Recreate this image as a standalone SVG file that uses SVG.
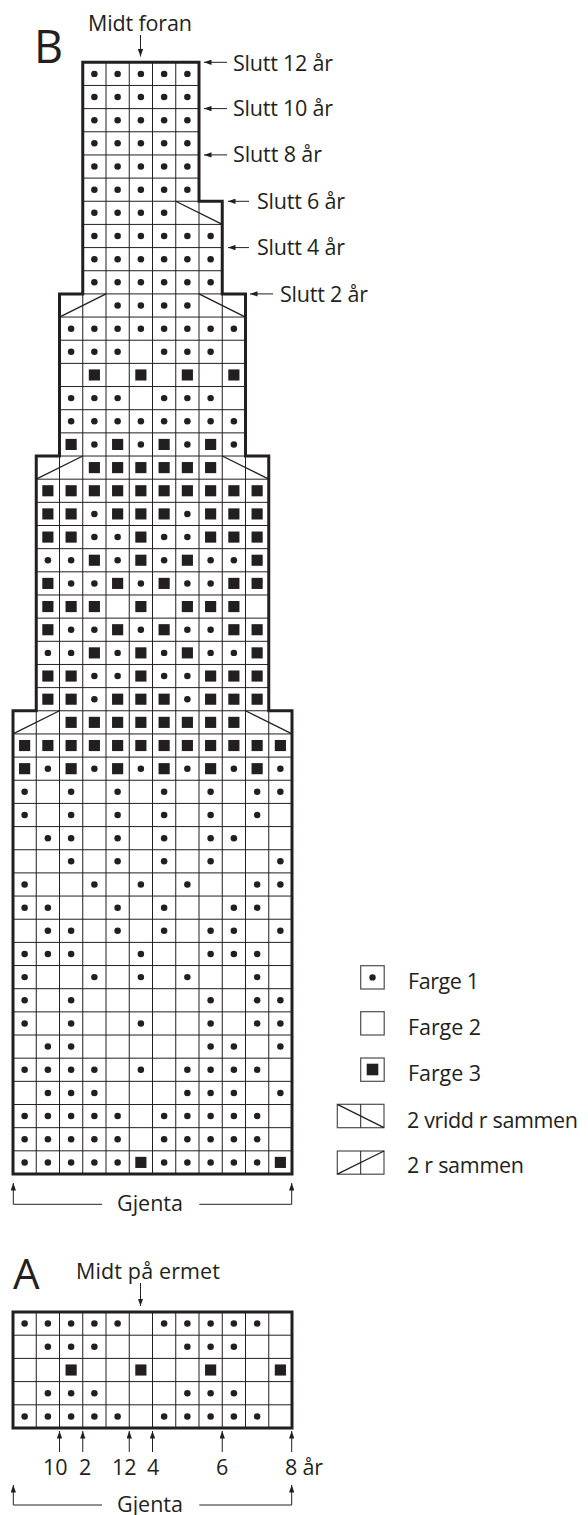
<svg xmlns="http://www.w3.org/2000/svg" xmlns:xlink="http://www.w3.org/1999/xlink" width="588" height="1515" viewBox="0 0 588 1515">
<style>
.g{fill:none;stroke:#231f20;stroke-width:1}
.ol{fill:none;stroke:#231f20;stroke-width:3;stroke-linejoin:miter}
.dg{fill:none;stroke:#231f20;stroke-width:1.3}
.lb{fill:#fff;stroke:#4d4d4d;stroke-width:1.2}
.ar{fill:none;stroke:#231f20;stroke-width:1;marker-end:url(#ah)}
text{font-family:"Open Sans","Liberation Sans",sans-serif;font-size:21.5px;fill:#231f20}
.k{fill:#231f20}
</style>
<defs>
<marker id="ah" viewBox="0 0 7 5" refX="7" refY="2.5" markerWidth="7.5" markerHeight="5.5" markerUnits="userSpaceOnUse" orient="auto"><path d="M0 0L7 2.5L0 5Z" fill="#231f20"/></marker>
<circle id="d" r="0.14" class="k"/>
<rect id="q" x="-0.24" y="-0.24" width="0.48" height="0.48" class="k"/>
</defs>
<rect x="0" y="0" width="588" height="1515" fill="#fff"/>

<g id="chartB" transform="translate(13 62.3) scale(23.25 23.16)">
<path class="g" vector-effect="non-scaling-stroke" d="M3 0H8M3 1H8M3 2H8M3 3H8M3 4H8M3 5H8M3 0V6M4 0V6M5 0V6M6 0V6M7 0V6M8 0V6
M3 6H9M3 7H9M3 8H9M3 9H9M3 6V10M4 6V10M5 6V10M6 6V10M7 6V10M8 6V10M9 6V10
M2 10H10M2 11H10M2 12H10M2 13H10M2 14H10M2 15H10M2 16H10M2 10V17M3 10V17M4 10V17M5 10V17M6 10V17M7 10V17M8 10V17M9 10V17M10 10V17
M1 17H11M1 18H11M1 19H11M1 20H11M1 21H11M1 22H11M1 23H11M1 24H11M1 25H11M1 26H11M1 27H11M1 17V28M2 17V28M3 17V28M4 17V28M5 17V28M6 17V28M7 17V28M8 17V28M9 17V28M10 17V28M11 17V28
M0 28H12M0 29H12M0 30H12M0 31H12M0 32H12M0 33H12M0 34H12M0 35H12M0 36H12M0 37H12M0 38H12M0 39H12M0 40H12M0 41H12M0 42H12M0 43H12M0 44H12M0 45H12M0 46H12M0 47H12M0 48H12
M0 28V48M1 28V48M2 28V48M3 28V48M4 28V48M5 28V48M6 28V48M7 28V48M8 28V48M9 28V48M10 28V48M11 28V48M12 28V48"/>
<path class="dg" vector-effect="non-scaling-stroke" d="M7 6L9 7M2 11L4 10M8 10L10 11M1 18L3 17M9 17L11 18M0 29L2 28M10 28L12 29"/>
<g id="symbolsB">
<use href="#d" x="3.5" y="0.5"/><use href="#d" x="4.5" y="0.5"/><use href="#d" x="5.5" y="0.5"/><use href="#d" x="6.5" y="0.5"/><use href="#d" x="7.5" y="0.5"/>
<use href="#d" x="3.5" y="1.5"/><use href="#d" x="4.5" y="1.5"/><use href="#d" x="5.5" y="1.5"/><use href="#d" x="6.5" y="1.5"/><use href="#d" x="7.5" y="1.5"/>
<use href="#d" x="3.5" y="2.5"/><use href="#d" x="4.5" y="2.5"/><use href="#d" x="5.5" y="2.5"/><use href="#d" x="6.5" y="2.5"/><use href="#d" x="7.5" y="2.5"/>
<use href="#d" x="3.5" y="3.5"/><use href="#d" x="4.5" y="3.5"/><use href="#d" x="5.5" y="3.5"/><use href="#d" x="6.5" y="3.5"/><use href="#d" x="7.5" y="3.5"/>
<use href="#d" x="3.5" y="4.5"/><use href="#d" x="4.5" y="4.5"/><use href="#d" x="5.5" y="4.5"/><use href="#d" x="6.5" y="4.5"/><use href="#d" x="7.5" y="4.5"/>
<use href="#d" x="3.5" y="5.5"/><use href="#d" x="4.5" y="5.5"/><use href="#d" x="5.5" y="5.5"/><use href="#d" x="6.5" y="5.5"/><use href="#d" x="7.5" y="5.5"/>
<use href="#d" x="3.5" y="6.5"/><use href="#d" x="4.5" y="6.5"/><use href="#d" x="5.5" y="6.5"/><use href="#d" x="6.5" y="6.5"/>
<use href="#d" x="3.5" y="7.5"/><use href="#d" x="4.5" y="7.5"/><use href="#d" x="5.5" y="7.5"/><use href="#d" x="6.5" y="7.5"/><use href="#d" x="7.5" y="7.5"/><use href="#d" x="8.5" y="7.5"/>
<use href="#d" x="3.5" y="8.5"/><use href="#d" x="4.5" y="8.5"/><use href="#d" x="5.5" y="8.5"/><use href="#d" x="6.5" y="8.5"/><use href="#d" x="7.5" y="8.5"/><use href="#d" x="8.5" y="8.5"/>
<use href="#d" x="3.5" y="9.5"/><use href="#d" x="4.5" y="9.5"/><use href="#d" x="5.5" y="9.5"/><use href="#d" x="6.5" y="9.5"/><use href="#d" x="7.5" y="9.5"/><use href="#d" x="8.5" y="9.5"/>
<use href="#d" x="4.5" y="10.5"/><use href="#d" x="5.5" y="10.5"/><use href="#d" x="6.5" y="10.5"/><use href="#d" x="7.5" y="10.5"/>
<use href="#d" x="2.5" y="11.5"/><use href="#d" x="3.5" y="11.5"/><use href="#d" x="4.5" y="11.5"/><use href="#d" x="5.5" y="11.5"/><use href="#d" x="6.5" y="11.5"/><use href="#d" x="7.5" y="11.5"/><use href="#d" x="8.5" y="11.5"/><use href="#d" x="9.5" y="11.5"/>
<use href="#d" x="2.5" y="12.5"/><use href="#d" x="3.5" y="12.5"/><use href="#d" x="4.5" y="12.5"/><use href="#d" x="6.5" y="12.5"/><use href="#d" x="7.5" y="12.5"/><use href="#d" x="8.5" y="12.5"/>
<use href="#q" x="3.5" y="13.5"/><use href="#q" x="5.5" y="13.5"/><use href="#q" x="7.5" y="13.5"/><use href="#q" x="9.5" y="13.5"/>
<use href="#d" x="2.5" y="14.5"/><use href="#d" x="3.5" y="14.5"/><use href="#d" x="4.5" y="14.5"/><use href="#d" x="6.5" y="14.5"/><use href="#d" x="7.5" y="14.5"/><use href="#d" x="8.5" y="14.5"/>
<use href="#d" x="2.5" y="15.5"/><use href="#d" x="3.5" y="15.5"/><use href="#d" x="4.5" y="15.5"/><use href="#d" x="5.5" y="15.5"/><use href="#d" x="6.5" y="15.5"/><use href="#d" x="7.5" y="15.5"/><use href="#d" x="8.5" y="15.5"/><use href="#d" x="9.5" y="15.5"/>
<use href="#q" x="2.5" y="16.5"/><use href="#d" x="3.5" y="16.5"/><use href="#q" x="4.5" y="16.5"/><use href="#d" x="5.5" y="16.5"/><use href="#q" x="6.5" y="16.5"/><use href="#d" x="7.5" y="16.5"/><use href="#q" x="8.5" y="16.5"/><use href="#d" x="9.5" y="16.5"/>
<use href="#q" x="3.5" y="17.5"/><use href="#q" x="4.5" y="17.5"/><use href="#q" x="5.5" y="17.5"/><use href="#q" x="6.5" y="17.5"/><use href="#q" x="7.5" y="17.5"/><use href="#q" x="8.5" y="17.5"/>
<use href="#q" x="1.5" y="18.5"/><use href="#q" x="2.5" y="18.5"/><use href="#q" x="3.5" y="18.5"/><use href="#q" x="4.5" y="18.5"/><use href="#q" x="5.5" y="18.5"/><use href="#q" x="6.5" y="18.5"/><use href="#q" x="7.5" y="18.5"/><use href="#q" x="8.5" y="18.5"/><use href="#q" x="9.5" y="18.5"/><use href="#q" x="10.5" y="18.5"/>
<use href="#q" x="1.5" y="19.5"/><use href="#q" x="2.5" y="19.5"/><use href="#d" x="3.5" y="19.5"/><use href="#q" x="4.5" y="19.5"/><use href="#q" x="5.5" y="19.5"/><use href="#q" x="6.5" y="19.5"/><use href="#d" x="7.5" y="19.5"/><use href="#q" x="8.5" y="19.5"/><use href="#q" x="9.5" y="19.5"/><use href="#q" x="10.5" y="19.5"/>
<use href="#q" x="1.5" y="20.5"/><use href="#q" x="2.5" y="20.5"/><use href="#d" x="3.5" y="20.5"/><use href="#d" x="4.5" y="20.5"/><use href="#q" x="5.5" y="20.5"/><use href="#d" x="6.5" y="20.5"/><use href="#d" x="7.5" y="20.5"/><use href="#q" x="8.5" y="20.5"/><use href="#q" x="9.5" y="20.5"/><use href="#q" x="10.5" y="20.5"/>
<use href="#d" x="1.5" y="21.5"/><use href="#d" x="2.5" y="21.5"/><use href="#q" x="3.5" y="21.5"/><use href="#d" x="4.5" y="21.5"/><use href="#q" x="5.5" y="21.5"/><use href="#d" x="6.5" y="21.5"/><use href="#q" x="7.5" y="21.5"/><use href="#d" x="8.5" y="21.5"/><use href="#d" x="9.5" y="21.5"/><use href="#q" x="10.5" y="21.5"/>
<use href="#q" x="1.5" y="22.5"/><use href="#d" x="2.5" y="22.5"/><use href="#d" x="3.5" y="22.5"/><use href="#q" x="4.5" y="22.5"/><use href="#d" x="5.5" y="22.5"/><use href="#q" x="6.5" y="22.5"/><use href="#d" x="7.5" y="22.5"/><use href="#d" x="8.5" y="22.5"/><use href="#q" x="9.5" y="22.5"/><use href="#q" x="10.5" y="22.5"/>
<use href="#q" x="1.5" y="23.5"/><use href="#q" x="2.5" y="23.5"/><use href="#q" x="3.5" y="23.5"/><use href="#q" x="5.5" y="23.5"/><use href="#q" x="7.5" y="23.5"/><use href="#q" x="8.5" y="23.5"/><use href="#q" x="9.5" y="23.5"/>
<use href="#q" x="1.5" y="24.5"/><use href="#d" x="2.5" y="24.5"/><use href="#d" x="3.5" y="24.5"/><use href="#q" x="4.5" y="24.5"/><use href="#d" x="5.5" y="24.5"/><use href="#q" x="6.5" y="24.5"/><use href="#d" x="7.5" y="24.5"/><use href="#d" x="8.5" y="24.5"/><use href="#q" x="9.5" y="24.5"/><use href="#q" x="10.5" y="24.5"/>
<use href="#d" x="1.5" y="25.5"/><use href="#d" x="2.5" y="25.5"/><use href="#q" x="3.5" y="25.5"/><use href="#d" x="4.5" y="25.5"/><use href="#q" x="5.5" y="25.5"/><use href="#d" x="6.5" y="25.5"/><use href="#q" x="7.5" y="25.5"/><use href="#d" x="8.5" y="25.5"/><use href="#d" x="9.5" y="25.5"/><use href="#q" x="10.5" y="25.5"/>
<use href="#q" x="1.5" y="26.5"/><use href="#q" x="2.5" y="26.5"/><use href="#d" x="3.5" y="26.5"/><use href="#d" x="4.5" y="26.5"/><use href="#q" x="5.5" y="26.5"/><use href="#d" x="6.5" y="26.5"/><use href="#d" x="7.5" y="26.5"/><use href="#q" x="8.5" y="26.5"/><use href="#q" x="9.5" y="26.5"/><use href="#q" x="10.5" y="26.5"/>
<use href="#q" x="1.5" y="27.5"/><use href="#q" x="2.5" y="27.5"/><use href="#d" x="3.5" y="27.5"/><use href="#q" x="4.5" y="27.5"/><use href="#q" x="5.5" y="27.5"/><use href="#q" x="6.5" y="27.5"/><use href="#d" x="7.5" y="27.5"/><use href="#q" x="8.5" y="27.5"/><use href="#q" x="9.5" y="27.5"/><use href="#q" x="10.5" y="27.5"/>
<use href="#q" x="2.5" y="28.5"/><use href="#q" x="3.5" y="28.5"/><use href="#q" x="4.5" y="28.5"/><use href="#q" x="5.5" y="28.5"/><use href="#q" x="6.5" y="28.5"/><use href="#q" x="7.5" y="28.5"/><use href="#q" x="8.5" y="28.5"/><use href="#q" x="9.5" y="28.5"/>
<use href="#q" x="0.5" y="29.5"/><use href="#q" x="1.5" y="29.5"/><use href="#q" x="2.5" y="29.5"/><use href="#q" x="3.5" y="29.5"/><use href="#q" x="4.5" y="29.5"/><use href="#q" x="5.5" y="29.5"/><use href="#q" x="6.5" y="29.5"/><use href="#q" x="7.5" y="29.5"/><use href="#q" x="8.5" y="29.5"/><use href="#q" x="9.5" y="29.5"/><use href="#q" x="10.5" y="29.5"/><use href="#q" x="11.5" y="29.5"/>
<use href="#q" x="0.5" y="30.5"/><use href="#d" x="1.5" y="30.5"/><use href="#q" x="2.5" y="30.5"/><use href="#d" x="3.5" y="30.5"/><use href="#q" x="4.5" y="30.5"/><use href="#d" x="5.5" y="30.5"/><use href="#q" x="6.5" y="30.5"/><use href="#d" x="7.5" y="30.5"/><use href="#q" x="8.5" y="30.5"/><use href="#d" x="9.5" y="30.5"/><use href="#q" x="10.5" y="30.5"/><use href="#d" x="11.5" y="30.5"/>
<use href="#d" x="0.5" y="31.5"/><use href="#d" x="2.5" y="31.5"/><use href="#d" x="4.5" y="31.5"/><use href="#d" x="6.5" y="31.5"/><use href="#d" x="8.5" y="31.5"/><use href="#d" x="10.5" y="31.5"/><use href="#d" x="11.5" y="31.5"/>
<use href="#d" x="0.5" y="32.5"/><use href="#d" x="2.5" y="32.5"/><use href="#d" x="4.5" y="32.5"/><use href="#d" x="6.5" y="32.5"/><use href="#d" x="8.5" y="32.5"/><use href="#d" x="10.5" y="32.5"/>
<use href="#d" x="1.5" y="33.5"/><use href="#d" x="2.5" y="33.5"/><use href="#d" x="4.5" y="33.5"/><use href="#d" x="6.5" y="33.5"/><use href="#d" x="8.5" y="33.5"/><use href="#d" x="9.5" y="33.5"/>
<use href="#d" x="2.5" y="34.5"/><use href="#d" x="4.5" y="34.5"/><use href="#d" x="6.5" y="34.5"/><use href="#d" x="8.5" y="34.5"/><use href="#d" x="11.5" y="34.5"/>
<use href="#d" x="0.5" y="35.5"/><use href="#d" x="3.5" y="35.5"/><use href="#d" x="5.5" y="35.5"/><use href="#d" x="7.5" y="35.5"/><use href="#d" x="10.5" y="35.5"/><use href="#d" x="11.5" y="35.5"/>
<use href="#d" x="0.5" y="36.5"/><use href="#d" x="1.5" y="36.5"/><use href="#d" x="4.5" y="36.5"/><use href="#d" x="6.5" y="36.5"/><use href="#d" x="9.5" y="36.5"/><use href="#d" x="10.5" y="36.5"/>
<use href="#d" x="1.5" y="37.5"/><use href="#d" x="2.5" y="37.5"/><use href="#d" x="4.5" y="37.5"/><use href="#d" x="6.5" y="37.5"/><use href="#d" x="8.5" y="37.5"/><use href="#d" x="9.5" y="37.5"/><use href="#d" x="11.5" y="37.5"/>
<use href="#d" x="0.5" y="38.5"/><use href="#d" x="1.5" y="38.5"/><use href="#d" x="2.5" y="38.5"/><use href="#d" x="5.5" y="38.5"/><use href="#d" x="8.5" y="38.5"/><use href="#d" x="9.5" y="38.5"/><use href="#d" x="10.5" y="38.5"/>
<use href="#d" x="0.5" y="39.5"/><use href="#d" x="3.5" y="39.5"/><use href="#d" x="5.5" y="39.5"/><use href="#d" x="7.5" y="39.5"/><use href="#d" x="10.5" y="39.5"/>
<use href="#d" x="0.5" y="40.5"/><use href="#d" x="2.5" y="40.5"/><use href="#d" x="8.5" y="40.5"/><use href="#d" x="10.5" y="40.5"/><use href="#d" x="11.5" y="40.5"/>
<use href="#d" x="0.5" y="41.5"/><use href="#d" x="2.5" y="41.5"/><use href="#d" x="5.5" y="41.5"/><use href="#d" x="8.5" y="41.5"/><use href="#d" x="10.5" y="41.5"/><use href="#d" x="11.5" y="41.5"/>
<use href="#d" x="1.5" y="42.5"/><use href="#d" x="2.5" y="42.5"/><use href="#d" x="8.5" y="42.5"/><use href="#d" x="9.5" y="42.5"/><use href="#d" x="11.5" y="42.5"/>
<use href="#d" x="0.5" y="43.5"/><use href="#d" x="1.5" y="43.5"/><use href="#d" x="2.5" y="43.5"/><use href="#d" x="3.5" y="43.5"/><use href="#d" x="5.5" y="43.5"/><use href="#d" x="7.5" y="43.5"/><use href="#d" x="8.5" y="43.5"/><use href="#d" x="9.5" y="43.5"/><use href="#d" x="10.5" y="43.5"/>
<use href="#d" x="1.5" y="44.5"/><use href="#d" x="2.5" y="44.5"/><use href="#d" x="3.5" y="44.5"/><use href="#d" x="7.5" y="44.5"/><use href="#d" x="8.5" y="44.5"/><use href="#d" x="9.5" y="44.5"/><use href="#d" x="11.5" y="44.5"/>
<use href="#d" x="0.5" y="45.5"/><use href="#d" x="1.5" y="45.5"/><use href="#d" x="2.5" y="45.5"/><use href="#d" x="3.5" y="45.5"/><use href="#d" x="4.5" y="45.5"/><use href="#d" x="6.5" y="45.5"/><use href="#d" x="7.5" y="45.5"/><use href="#d" x="8.5" y="45.5"/><use href="#d" x="9.5" y="45.5"/><use href="#d" x="10.5" y="45.5"/>
<use href="#d" x="0.5" y="46.5"/><use href="#d" x="1.5" y="46.5"/><use href="#d" x="2.5" y="46.5"/><use href="#d" x="3.5" y="46.5"/><use href="#d" x="4.5" y="46.5"/><use href="#d" x="6.5" y="46.5"/><use href="#d" x="7.5" y="46.5"/><use href="#d" x="8.5" y="46.5"/><use href="#d" x="9.5" y="46.5"/><use href="#d" x="10.5" y="46.5"/>
<use href="#d" x="0.5" y="47.5"/><use href="#d" x="1.5" y="47.5"/><use href="#d" x="2.5" y="47.5"/><use href="#d" x="3.5" y="47.5"/><use href="#d" x="4.5" y="47.5"/><use href="#q" x="5.5" y="47.5"/><use href="#d" x="6.5" y="47.5"/><use href="#d" x="7.5" y="47.5"/><use href="#d" x="8.5" y="47.5"/><use href="#d" x="9.5" y="47.5"/><use href="#d" x="10.5" y="47.5"/><use href="#q" x="11.5" y="47.5"/>
</g>
<path class="ol" vector-effect="non-scaling-stroke" d="M3 0H8V6H9V10H10V17H11V28H12V48H0V28H1V17H2V10H3Z"/>
</g>

<g id="chartA" transform="translate(13 1312) scale(23.25 23.2)">
<path class="g" vector-effect="non-scaling-stroke" d="M0 1H12M0 2H12M0 3H12M0 4H12M1 0V5M2 0V5M3 0V5M4 0V5M5 0V5M6 0V5M7 0V5M8 0V5M9 0V5M10 0V5M11 0V5"/>
<use href="#d" x="0.5" y="0.5"/><use href="#d" x="1.5" y="0.5"/><use href="#d" x="2.5" y="0.5"/><use href="#d" x="3.5" y="0.5"/><use href="#d" x="4.5" y="0.5"/><use href="#d" x="6.5" y="0.5"/><use href="#d" x="7.5" y="0.5"/><use href="#d" x="8.5" y="0.5"/><use href="#d" x="9.5" y="0.5"/><use href="#d" x="10.5" y="0.5"/>
<use href="#d" x="1.5" y="1.5"/><use href="#d" x="2.5" y="1.5"/><use href="#d" x="3.5" y="1.5"/><use href="#d" x="7.5" y="1.5"/><use href="#d" x="8.5" y="1.5"/><use href="#d" x="9.5" y="1.5"/>
<use href="#q" x="2.5" y="2.5"/><use href="#q" x="5.5" y="2.5"/><use href="#q" x="8.5" y="2.5"/><use href="#q" x="11.5" y="2.5"/>
<use href="#d" x="1.5" y="3.5"/><use href="#d" x="2.5" y="3.5"/><use href="#d" x="3.5" y="3.5"/><use href="#d" x="7.5" y="3.5"/><use href="#d" x="8.5" y="3.5"/><use href="#d" x="9.5" y="3.5"/>
<use href="#d" x="0.5" y="4.5"/><use href="#d" x="1.5" y="4.5"/><use href="#d" x="2.5" y="4.5"/><use href="#d" x="3.5" y="4.5"/><use href="#d" x="4.5" y="4.5"/><use href="#d" x="6.5" y="4.5"/><use href="#d" x="7.5" y="4.5"/><use href="#d" x="8.5" y="4.5"/><use href="#d" x="9.5" y="4.5"/><use href="#d" x="10.5" y="4.5"/>
<rect class="ol" vector-effect="non-scaling-stroke" x="0" y="0" width="12" height="5"/>
</g>

<g id="legend">
<g id="leg1"><rect class="lb" x="360.7" y="965.7" width="23.5" height="23.3"/><circle class="k" cx="372.5" cy="977.4" r="3.2"/><text x="408" y="989" textLength="71">Farge 1</text></g>
<g id="leg2"><rect class="lb" x="360.7" y="1011.7" width="23.5" height="23.3"/><text x="408" y="1035" textLength="73">Farge 2</text></g>
<g id="leg3"><rect class="lb" x="360.7" y="1058" width="23.5" height="23.3"/><rect class="k" x="366.7" y="1063.7" width="11.6" height="11.6"/><text x="408" y="1081" textLength="73">Farge 3</text></g>
<g id="leg4"><rect class="lb" x="337.3" y="1104.3" width="46.7" height="23.4"/><path class="g" d="M360.7 1104.3V1127.7"/><path class="dg" d="M337.3 1104.3L384 1127.7"/><text x="407" y="1127.7" textLength="171">2 vridd r sammen</text></g>
<g id="leg5"><rect class="lb" x="337.3" y="1151" width="46.7" height="23.2"/><path class="g" d="M360.7 1151V1174.2"/><path class="dg" d="M337.3 1174.2L384 1151"/><text x="407" y="1173.3" textLength="117">2 r sammen</text></g>
</g>

<g id="labels">
<text x="34" y="63" style="font-size:45px">B</text>
<text x="88" y="30.5" textLength="104">Midt foran</text>
<text x="233" y="70.5" textLength="100">Slutt 12 år</text>
<text x="233" y="116" textLength="100">Slutt 10 år</text>
<text x="233" y="161.5" textLength="89">Slutt 8 år</text>
<text x="257" y="209" textLength="88">Slutt 6 år</text>
<text x="257" y="255" textLength="88">Slutt 4 år</text>
<text x="280" y="301.5" textLength="88">Slutt 2 år</text>
<text x="117" y="1211" textLength="66">Gjenta</text>
<text x="13" y="1289" style="font-size:42px">A</text>
<text x="76" y="1279" textLength="144">Midt på ermet</text>
<text x="43" y="1475" style="font-size:21.5px">10</text>
<text x="79" y="1475" style="font-size:21.5px">2</text>
<text x="112" y="1475" style="font-size:21.5px">12</text>
<text x="147" y="1475" style="font-size:21.5px">4</text>
<text x="216" y="1475" style="font-size:21.5px">6</text>
<text x="285" y="1475" style="font-size:21.5px" textLength="38">8 år</text>
<text x="117" y="1511.7" textLength="66">Gjenta</text>
</g>

<g id="connectors">
<path class="ar" d="M140.5 35V56.5"/>
<path class="ar" d="M227 62.3H204"/>
<path class="ar" d="M227 108.6H204"/>
<path class="ar" d="M227 154.9H204"/>
<path class="ar" d="M249 201.3H228"/>
<path class="ar" d="M249 247.6H228"/>
<path class="ar" d="M273 293.9H250"/>
<path class="ar" d="M102 1204.3H13.3V1183"/>
<path class="ar" d="M199.3 1204.3H291.7V1183"/>
<path class="ar" d="M140.5 1283V1306"/>
<path class="ar" d="M59.5 1452V1431"/>
<path class="ar" d="M82.75 1452V1431"/>
<path class="ar" d="M129.25 1452V1431"/>
<path class="ar" d="M152.5 1452V1431"/>
<path class="ar" d="M222.25 1452V1431"/>
<path class="ar" d="M291.7 1452V1431"/>
<path class="ar" d="M102 1505H13.3V1485"/>
<path class="ar" d="M199.3 1505H291.7V1485"/>
</g>
</svg>
